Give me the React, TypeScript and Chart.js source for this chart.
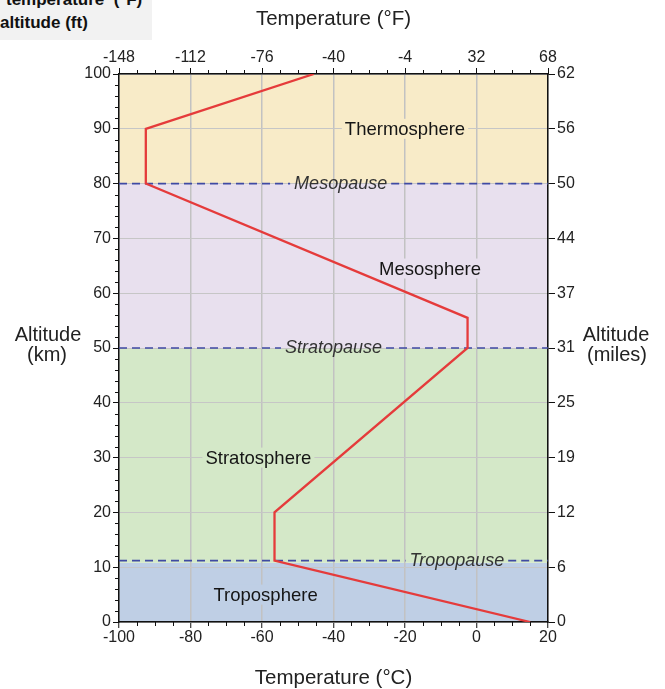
import React, { useEffect, useRef } from 'react';
import { Chart, registerables } from 'chart.js';

Chart.register(...registerables);

// ---- data ----
const altitudeKm = [0, 11.2, 20, 50, 55.5, 80, 90, 100];
const temperatureC = [15, -56.5, -56.5, -2.5, -2.5, -92.5, -92.5, -45.5];

const fahrenheitTicks = ['-148', '-112', '-76', '-40', '-4', '32', '68'];
const milesTicks = ['0', '6', '12', '19', '25', '31', '37', '44', '50', '56', '62'];

const layerNames = ['Troposphere', 'Stratosphere', 'Mesosphere', 'Thermosphere'];
const layerBottomKm = [0, 10.8, 50, 80];
const layerTopKm = [10.8, 50, 80, 100];
const layerColors = ['#bfcfe5', '#d4e8c8', '#e8e0ee', '#f8ebc8'];
const layerLabelTemp = [-59, -61, -13, -20];
const layerLabelAlt = [5, 30, 64.5, 90];

const pauseNames = ['Tropopause', 'Stratopause', 'Mesopause'];
const pauseAltKm = [11.2, 50, 80];
const pauseLabelTemp = [-5.5, -40, -38];

const FONT = '"Liberation Sans", Arial, Helvetica, sans-serif';

const atmospherePlugin = {
  id: 'atmosphere',
  beforeDraw(chart: any) {
    const { ctx, chartArea, scales } = chart;
    const y = scales.y;
    ctx.save();
    ctx.fillStyle = '#ffffff';
    ctx.fillRect(0, 0, chart.width, chart.height);
    for (let i = 0; i < layerNames.length; i++) {
      const yTop = y.getPixelForValue(layerTopKm[i]);
      const yBot = y.getPixelForValue(layerBottomKm[i]);
      ctx.fillStyle = layerColors[i];
      ctx.fillRect(chartArea.left, yTop, chartArea.right - chartArea.left, yBot - yTop);
    }
    ctx.restore();
  },
  beforeDatasetsDraw(chart: any) {
    const { ctx, chartArea, scales } = chart;
    const x = scales.x;
    const y = scales.y;
    ctx.save();
    // region labels with background
    ctx.font = `18.5px ${FONT}`;
    ctx.textAlign = 'center';
    ctx.textBaseline = 'middle';
    for (let i = 0; i < layerNames.length; i++) {
      const cx = x.getPixelForValue(layerLabelTemp[i]);
      const cy = y.getPixelForValue(layerLabelAlt[i]);
      const w = ctx.measureText(layerNames[i]).width;
      ctx.fillStyle = layerColors[i];
      ctx.fillRect(cx - w / 2 - 3, cy - 10, w + 6, 20);
      ctx.fillStyle = '#151515';
      ctx.fillText(layerNames[i], cx, cy + 1);
    }
    // pause dashed lines with gaps for labels
    ctx.font = `italic 18px ${FONT}`;
    for (let i = 0; i < pauseNames.length; i++) {
      const cx = x.getPixelForValue(pauseLabelTemp[i]);
      const cy = y.getPixelForValue(pauseAltKm[i]);
      const w = ctx.measureText(pauseNames[i]).width;
      ctx.strokeStyle = '#3f4aa3';
      ctx.lineWidth = 1.7;
      ctx.setLineDash([8, 5]);
      ctx.beginPath();
      ctx.moveTo(chartArea.left, cy);
      ctx.lineTo(cx - w / 2 - 4, cy);
      ctx.moveTo(cx + w / 2 + 4, cy);
      ctx.lineTo(chartArea.right, cy);
      ctx.stroke();
      ctx.setLineDash([]);
      ctx.fillStyle = '#333333';
      ctx.fillText(pauseNames[i], cx, cy);
    }
    ctx.restore();
  },
  afterDraw(chart: any) {
    const { ctx, chartArea, scales } = chart;
    const x = scales.x;
    const y = scales.y;
    ctx.save();
    // minor ticks
    ctx.strokeStyle = '#111';
    ctx.lineWidth = 1;
    ctx.beginPath();
    for (let v = -100; v <= 20; v += 5) {
      if (v % 20 === 0) continue;
      const px = Math.round(x.getPixelForValue(v)) + 0.5;
      ctx.moveTo(px, chartArea.bottom);
      ctx.lineTo(px, chartArea.bottom + 4);
      ctx.moveTo(px, chartArea.top);
      ctx.lineTo(px, chartArea.top - 4);
    }
    for (let v = 0; v <= 100; v += 2) {
      if (v % 10 === 0) continue;
      const py = Math.round(y.getPixelForValue(v)) + 0.5;
      ctx.moveTo(chartArea.left, py);
      ctx.lineTo(chartArea.left - 4, py);
    }
    ctx.stroke();
    // axis titles
    ctx.fillStyle = '#222';
    ctx.font = `20.5px ${FONT}`;
    ctx.textAlign = 'center';
    ctx.textBaseline = 'middle';
    const midX = (chartArea.left + chartArea.right) / 2;
    ctx.fillText('Temperature (°F)', midX, 19);
    ctx.fillText('Temperature (°C)', midX, chart.height - 11);
    ctx.font = `20px ${FONT}`;
    ctx.fillText('Altitude', 48, 335);
    ctx.fillText('(km)', 47, 355);
    ctx.fillText('Altitude', 616, 335);
    ctx.fillText('(miles)', 617, 355);
    ctx.restore();
  },
};

export default function App() {
  const canvasRef = useRef<HTMLCanvasElement | null>(null);

  useEffect(() => {
    if (!canvasRef.current) return;
    Chart.defaults.font.family = FONT;
    const points = altitudeKm.map((a, i) => ({ x: temperatureC[i], y: a }));
    const tickFont = { size: 16, family: FONT };
    const chart = new Chart(canvasRef.current, {
      type: 'line',
      data: {
        datasets: [
          {
            data: points,
            borderColor: '#e53b3b',
            borderWidth: 2.3,
            pointRadius: 0,
            tension: 0,
            fill: false,
          },
        ],
      },
      options: {
        animation: false,
        responsive: false,
        devicePixelRatio: 1,
        layout: { padding: 0 },
        plugins: { legend: { display: false }, tooltip: { enabled: false }, title: { display: false } },
        scales: {
          x: {
            type: 'linear',
            position: 'bottom',
            min: -100,
            max: 20,
            ticks: { stepSize: 20, color: '#222', font: tickFont, padding: 0, maxRotation: 0 },
            grid: { color: '#c2c2c2', lineWidth: 1.5, tickColor: '#111', tickLength: 6, tickWidth: 1 },
            border: { color: '#111', width: 1.5 },
            afterFit: (s: any) => { s.height = 67; },
          },
          x2: {
            type: 'linear',
            position: 'top',
            min: -100,
            max: 20,
            ticks: {
              stepSize: 20,
              color: '#222',
              font: tickFont,
              padding: 1,
              maxRotation: 0,
              callback: (_v: any, i: number) => fahrenheitTicks[i],
            },
            grid: { drawOnChartArea: false, tickColor: '#111', tickLength: 6, tickWidth: 1 },
            border: { color: '#111', width: 1.5 },
            afterFit: (s: any) => { s.height = 74; },
          },
          y: {
            type: 'linear',
            position: 'left',
            min: 0,
            max: 100,
            ticks: { stepSize: 10, color: '#222', font: tickFont, padding: 2 },
            grid: { color: '#c6c6c6', lineWidth: 1, tickColor: '#111', tickLength: 6, tickWidth: 1 },
            border: { color: '#111', width: 1.5 },
            afterFit: (s: any) => { s.width = 119; },
          },
          y2: {
            type: 'linear',
            position: 'right',
            min: 0,
            max: 100,
            ticks: {
              stepSize: 10,
              color: '#222',
              font: tickFont,
              padding: 2,
              callback: (_v: any, i: number) => milesTicks[i],
            },
            grid: { drawOnChartArea: false, tickColor: '#111', tickLength: 7, tickWidth: 1 },
            border: { color: '#111', width: 1.5 },
            afterFit: (s: any) => { s.width = 117; },
          },
        },
      },
      plugins: [atmospherePlugin],
    } as any);
    return () => chart.destroy();
  }, []);

  return (
    <div style={{ position: 'absolute', left: 0, top: 0, width: 665, height: 689, background: '#fff' }}>
      <canvas ref={canvasRef} width={665} height={689} style={{ display: 'block' }} />
      <div
        style={{
          position: 'absolute',
          left: 0,
          top: 0,
          width: 152,
          height: 40,
          background: '#f2f2f2',
          overflow: 'hidden',
          fontFamily: FONT,
          fontWeight: 'bold',
          fontSize: 17,
          color: '#111',
          lineHeight: '22px',
        }}
      >
        <div style={{ position: 'absolute', left: 6, top: -11, whiteSpace: 'pre' }}>temperature  (°F)</div>
        <div style={{ position: 'absolute', left: 0, top: 12, whiteSpace: 'pre' }}>altitude (ft)</div>
      </div>
    </div>
  );
}
